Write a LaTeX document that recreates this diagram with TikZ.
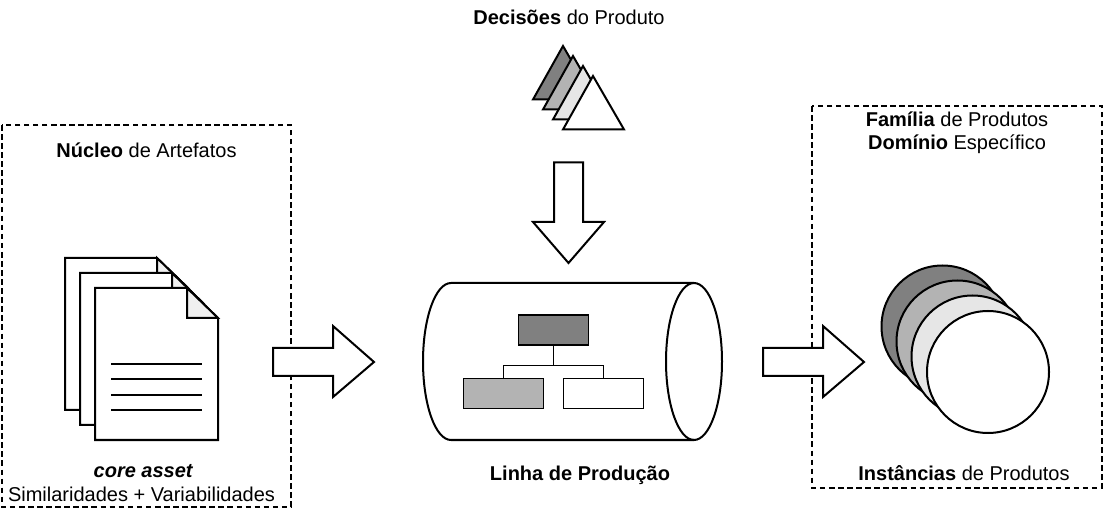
\documentclass[tikz,border=0pt]{standalone}
\usepackage{fontspec}
\setmainfont{Liberation Sans}
\definecolor{gA}{HTML}{808080}
\definecolor{gB}{HTML}{B3B3B3}
\definecolor{gC}{HTML}{E6E6E6}
\definecolor{gF}{HTML}{F0F0F0}
\tikzset{
  shape line/.style={draw=black,line width=1.5pt,line join=miter},
  dashed box/.style={draw=black,line width=1.2pt,dash pattern=on 4.2pt off 2.6pt},
  label text/.style={inner sep=0pt,font=\fontsize{15pt}{18pt}\selectfont,text=black,align=center},
  org box/.style={draw=black,line width=.8pt,inner sep=0pt,minimum height=22.5pt,minimum width=60pt},
  org link/.style={draw=black,line width=.8pt},
  text line/.style={draw=black,line width=1.4pt},
}
% doc sheet: x,y top left
\newcommand{\docsheet}[2]{\filldraw[shape line,fill=white] (#1,#2) -- ++(92,0) -- ++(31,30) -- ++(0,122) -- ++(-123,0) -- cycle;
  \filldraw[shape line,fill=gF] (#1+92,#2) -- ++(0,30) -- ++(31,0) -- cycle;}
\begin{document}
\begin{tikzpicture}[x=.75pt,y=-.75pt]
\useasboundingbox (0,0) rectangle (1103,509);
\fill[white] (0,0) rectangle (1103,509);
% dashed containers
\draw[dashed box] (2,125) rectangle (291,507);
\draw[dashed box] (812,106) rectangle (1102,488);
% documents
\docsheet{65}{258}
\docsheet{80}{273}
\docsheet{95}{288}
\foreach \yy in {364,379,395,410}{\draw[text line] (111,\yy) -- (202,\yy);}
% block arrows
\filldraw[shape line,fill=white] (273,348) -- (333,348) -- (333,326) -- (374,362) -- (333,397) -- (333,376) -- (273,376) -- cycle;
\filldraw[shape line,fill=white] (763,348) -- (823,348) -- (823,326) -- (864,362) -- (823,397) -- (823,376) -- (763,376) -- cycle;
\filldraw[shape line,fill=white] (554,162.5) -- (583,162.5) -- (583,222) -- (604,222) -- (568.5,263) -- (533,222) -- (554,222) -- cycle;
% triangles
\filldraw[shape line,fill=gA] (563,46) -- (594,99.5) -- (533,99.5) -- cycle;
\filldraw[shape line,fill=gB] (573,56) -- (604,109.5) -- (543,109.5) -- cycle;
\filldraw[shape line,fill=gC] (583,66) -- (614,119.5) -- (553,119.5) -- cycle;
\filldraw[shape line,fill=white] (593,76) -- (624,129.5) -- (563,129.5) -- cycle;
% cylinder
\filldraw[shape line,fill=white] (694,283) -- (451,283)
  .. controls (435.5,283) and (423,318.1) .. (423,361.5)
  .. controls (423,404.9) and (435.5,440) .. (451,440) -- (694,440);
\draw[shape line] (694,361.5) ellipse[x radius=28,y radius=78.5];
% org chart
\node[org box,fill=gA,minimum width=53pt] (orgtop) at (553.5,330) {};
\node[org box,fill=gB] (orgleft) at (503.2,393.5) {};
\node[org box,fill=white] (orgright) at (603.2,393.5) {};
\coordinate (orgbus) at (553.5,365.5);
\draw[org link] (orgtop.south) -- (orgbus);
\draw[org link] (orgleft.north) |- (orgbus) -| (orgright.north);
% circles
\filldraw[shape line,fill=gA] (942.5,326.5) circle[radius=61];
\filldraw[shape line,fill=gB] (957.5,341.5) circle[radius=61];
\filldraw[shape line,fill=gC] (972.5,356.5) circle[radius=61];
\filldraw[shape line,fill=white] (988,372) circle[radius=61];
% labels
\node[label text] (lbdec) at (569,17) {\textbf{Decisões} do Produto};
\node[label text] (lbnuc) at (146.5,150) {\textbf{Núcleo} de Artefatos};
\node[label text] (lbcore) at (143.5,471) {\textbf{\textit{core asset}}};
\node[label text] (lbsim) at (141.5,494.5) {Similaridades + Variabilidades};
\node[label text] (lblin) at (580,475.5) {\textbf{Linha de Produção}};
\node[label text] (lbfam) at (957,119) {\textbf{Família} de Produtos};
\node[label text] (lbdom) at (957,144) {\textbf{Domínio} Específico};
\node[label text] (lbins) at (964,473) {\textbf{Instâncias} de Produtos};
\end{tikzpicture}
\end{document}
